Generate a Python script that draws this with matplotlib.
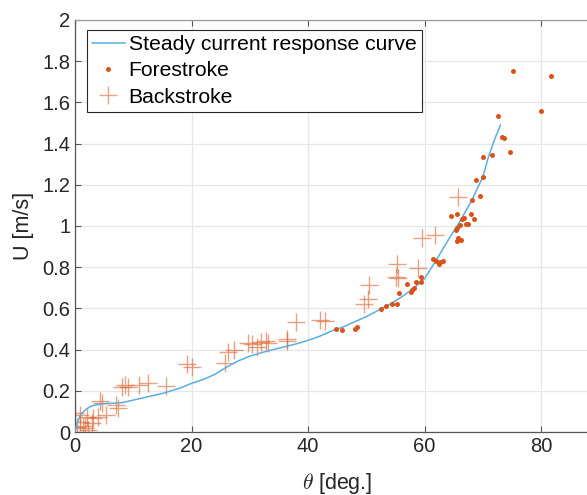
import matplotlib
matplotlib.use("Agg")
import matplotlib.pyplot as plt

# Steady current response curve
curve_x = [0, 0.3, 0.6, 1, 1.5, 2, 2.6, 3.5, 4.5, 6, 8, 10, 12, 15, 18, 20, 22, 24, 26, 28,
           30, 32, 34, 36, 38, 40, 42, 44, 46, 48, 50, 52, 54, 56, 58, 60, 62, 64, 66, 68,
           70, 71, 72, 73]
curve_y = [0, 0.035, 0.06, 0.085, 0.1, 0.112, 0.123, 0.131, 0.136, 0.139, 0.142, 0.155, 0.168,
           0.187, 0.213, 0.236, 0.255, 0.28, 0.315, 0.345, 0.368, 0.385, 0.4, 0.414, 0.428,
           0.445, 0.465, 0.49, 0.51, 0.535, 0.56, 0.59, 0.62, 0.655, 0.695, 0.745, 0.835,
           0.93, 1.02, 1.12, 1.24, 1.34, 1.42, 1.49]

# Forestroke
fore_x = [44.7, 45.9, 48.1, 48.4, 52.5, 53.3, 54.4, 55.2, 55.6, 57.7, 57.9, 58.1, 56.9, 58.5,
          59.3, 59.3, 61.4, 62.0, 62.5, 62.7, 63.1, 65.6, 66.2, 65.8, 65.3, 65.6, 66.0, 67.1,
          67.4, 66.4, 66.7, 68.5, 67.9, 65.6, 64.6, 68.1, 69.5, 68.8, 70.0, 70.0, 71.5, 74.7,
          73.2, 73.6, 72.6, 80.0, 75.2, 81.6]
fore_y = [0.498, 0.495, 0.500, 0.510, 0.599, 0.613, 0.621, 0.620, 0.673, 0.680, 0.689, 0.697,
          0.718, 0.730, 0.728, 0.754, 0.840, 0.830, 0.814, 0.825, 0.830, 0.927, 0.932, 0.940,
          0.980, 0.990, 1.005, 1.011, 1.010, 1.032, 1.039, 1.034, 1.057, 1.060, 1.049, 1.125,
          1.147, 1.225, 1.240, 1.335, 1.343, 1.360, 1.430, 1.427, 1.535, 1.560, 1.750, 1.730]

# Backstroke
back_x = [0.0, 0.9, 2.0, 3.1, 2.9, 0.3, 1.7, 2.3, 1.4, 0.9, 4.3, 4.6, 5.4, 4.0, 7.4, 7.1, 8.0,
          8.6, 9.1, 10.9, 12.6, 15.7, 19.2, 20.0, 25.8, 26.3, 27.2, 29.7, 30.3, 31.3, 32.0,
          32.8, 33.2, 36.3, 36.3, 38.0, 42.1, 42.9, 49.6, 50.3, 50.4, 55.0, 55.5, 55.3, 58.9,
          59.5, 61.7, 65.8]
back_y = [0.090, 0.083, 0.074, 0.066, 0.042, 0.026, 0.018, 0.010, 0.029, 0.050, 0.150, 0.139,
          0.083, 0.071, 0.115, 0.131, 0.217, 0.228, 0.217, 0.228, 0.236, 0.223, 0.330, 0.317,
          0.333, 0.390, 0.398, 0.433, 0.428, 0.414, 0.438, 0.443, 0.433, 0.452, 0.440, 0.535,
          0.542, 0.537, 0.620, 0.645, 0.714, 0.754, 0.746, 0.814, 0.795, 0.940, 0.956, 1.142]

x_ticks = [0, 20, 40, 60, 80]
y_ticks = [0, 0.2, 0.4, 0.6, 0.8, 1, 1.2, 1.4, 1.6, 1.8, 2]
y_tick_labels = ["0", "0.2", "0.4", "0.6", "0.8", "1", "1.2", "1.4", "1.6", "1.8", "2"]

plt.rcParams['font.family'] = ['Liberation Sans', 'DejaVu Sans']
plt.rcParams['mathtext.fontset'] = 'cm'

fig = plt.figure(figsize=(5.87, 4.95), dpi=100)
ax = fig.add_axes([75 / 587, 1 - 432 / 495, 524.5 / 587, 412 / 495])

orange = '#D95319'
blue = '#5AAEE2'

ax.plot(curve_x, curve_y, color=blue, lw=1.1, label='Steady current response curve', zorder=3)
ax.plot(fore_x, fore_y, linestyle='none', marker='o', ms=3.6, color=orange,
        markeredgewidth=0, label='Forestroke', zorder=4)
ax.plot(back_x, back_y, linestyle='none', marker='+', ms=13, markeredgewidth=1.0,
        color=orange, alpha=0.55, label='Backstroke', zorder=2)

ax.set_xlim(0, 90)
ax.set_ylim(0, 2)
ax.set_xticks(x_ticks)
ax.set_yticks(y_ticks)
ax.set_yticklabels(y_tick_labels)
ax.grid(True, color='#E6E6E6', lw=0.9)
ax.set_axisbelow(True)
ax.tick_params(direction='in', length=4, width=0.8, labelcolor='#262626', labelsize=14.5,
               top=True, right=False, color='#555555')
for side in ['left', 'bottom']:
    ax.spines[side].set_color('#555555')
    ax.spines[side].set_linewidth(0.9)
ax.spines['top'].set_color('#9a9a9a')
ax.spines['top'].set_linewidth(0.9)
ax.spines['right'].set_visible(False)

ax.set_xlabel(r'$\theta$ [deg.]', fontsize=15.5, color='#262626', labelpad=11)
ax.set_ylabel('U [m/s]', fontsize=15.5, color='#262626', labelpad=6)

leg = ax.legend(loc='upper left', bbox_to_anchor=(11.5 / 524.5, 1 - 10 / 412), fontsize=15.2,
                frameon=True, fancybox=False, edgecolor='#262626', framealpha=1,
                borderpad=0.25, handlelength=1.55, handletextpad=0.2, labelspacing=0.34,
                borderaxespad=0)
leg.get_frame().set_linewidth(0.8)

fig.savefig('out.png', dpi=100)
